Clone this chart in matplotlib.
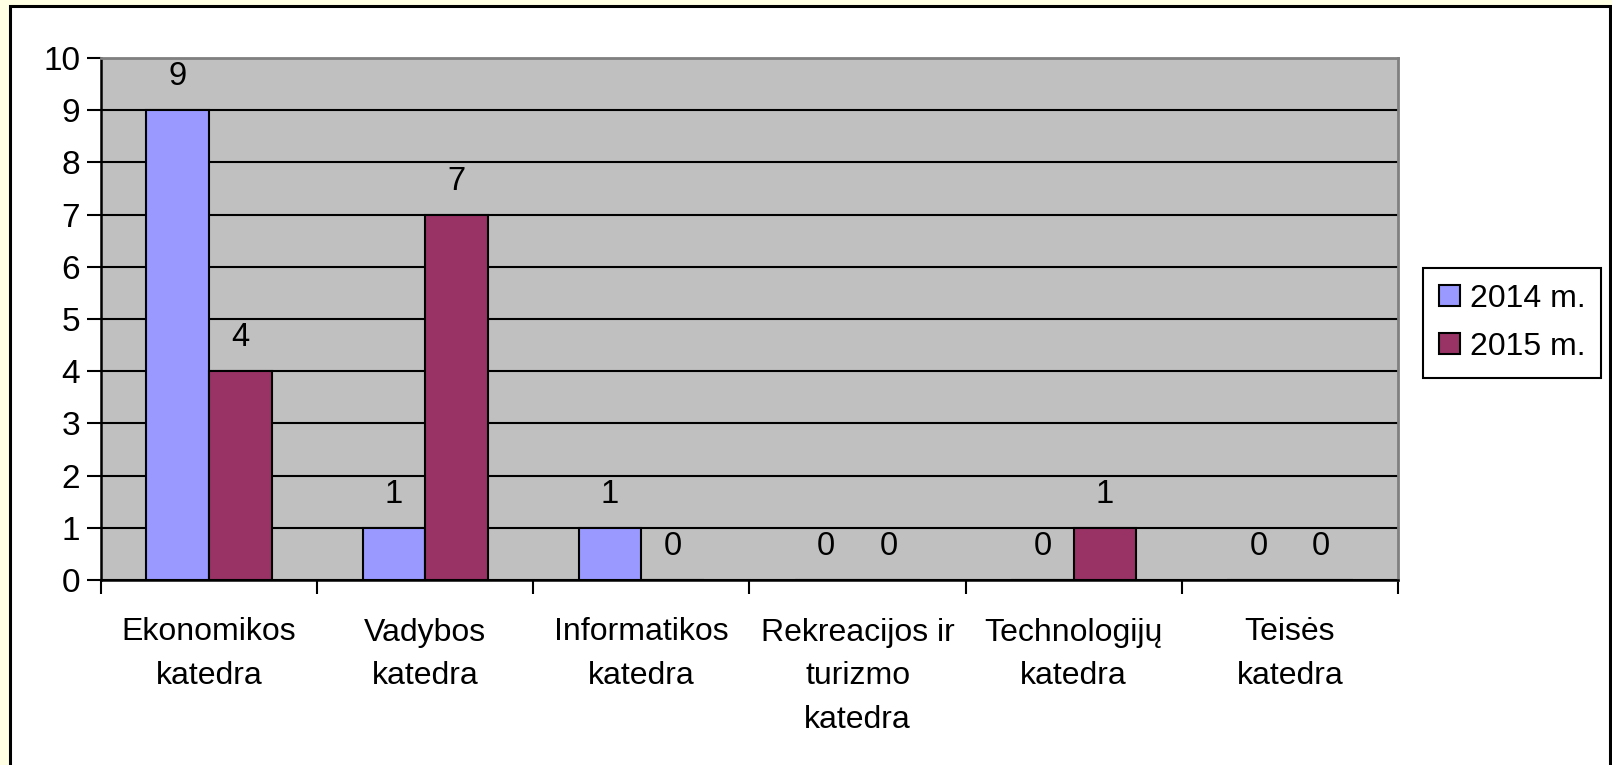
import numpy as np
import matplotlib
matplotlib.use("Agg")
import matplotlib.pyplot as plt
from matplotlib.patches import Rectangle

plt.rcParams['font.family'] = ['Liberation Sans', 'DejaVu Sans']

# Data
categories = ["Ekonomikos\nkatedra", "Vadybos\nkatedra", "Informatikos\nkatedra",
              "Rekreacijos ir\nturizmo\nkatedra", "Technologijų\nkatedra", "Teisės\nkatedra"]
series_names = ["2014 m.", "2015 m."]
values_2014 = [9, 1, 1, 0, 0, 0]
values_2015 = [4, 7, 0, 0, 1, 0]
colors = ["#9999FF", "#993366"]

FS = 23
W, H = 1612, 765
fig = plt.figure(figsize=(W / 100, H / 100), dpi=100)
fig.patch.set_facecolor("#FFFFE3")

# white chart panel with black border
panel = Rectangle((10 / W, -0.05), 1600 / W, 1.05 - 6 / H, transform=fig.transFigure,
                  facecolor="white", edgecolor="black", linewidth=2.2, zorder=-10)
fig.patches.append(panel)

ax = fig.add_axes([101 / W, (H - 580) / H, 1297 / W, 522 / H])
ax.set_facecolor("#C0C0C0")

x = np.arange(len(categories))
bw = 0.29
for vals, off, col, name in [(values_2014, -bw / 2, colors[0], series_names[0]),
                             (values_2015, bw / 2, colors[1], series_names[1])]:
    bars = ax.bar(x + off, vals, width=bw, color=col, edgecolor="black",
                  linewidth=1.5, label=name, zorder=3)
    for b, v in zip(bars, vals):
        ax.annotate(str(v), (b.get_x() + b.get_width() / 2, v),
                    xytext=(0, 24), textcoords="offset points",
                    ha="center", va="center", fontsize=FS + 0.5)

ax.set_xlim(-0.5, len(categories) - 0.5)
ax.set_ylim(0, 10)
ax.set_yticks(range(0, 11))
ax.yaxis.grid(True, color="black", linewidth=1.5, zorder=1)
ax.set_axisbelow(True)

ax.set_xticks(np.arange(-0.5, len(categories), 1.0))
ax.set_xticklabels([])
ax.set_xticks(x, minor=True)
ax.set_xticklabels(categories, minor=True, fontsize=FS, linespacing=1.6)
ax.tick_params(axis="x", which="minor", length=0, pad=27)
ax.tick_params(axis="x", which="major", length=10, width=1.5, direction="out")
ax.tick_params(axis="y", length=10, width=1.5, direction="out", labelsize=FS + 1, pad=5)

for s in ["left", "bottom"]:
    ax.spines[s].set_color("black")
    ax.spines[s].set_linewidth(1.8)
for s in ["top", "right"]:
    ax.spines[s].set_color("#808080")
    ax.spines[s].set_linewidth(2)

leg = fig.legend(loc="upper left", bbox_to_anchor=(1423 / W, 1 - 268 / H),
                 fontsize=FS, frameon=True, fancybox=False, edgecolor="black",
                 handlelength=0.66, handleheight=0.65, handletextpad=0.3,
                 borderpad=0.5, labelspacing=0.55, borderaxespad=0)
leg.get_frame().set_linewidth(1.5)
leg.get_frame().set_alpha(None)

fig.savefig("out.png", dpi=100, facecolor=fig.get_facecolor())
